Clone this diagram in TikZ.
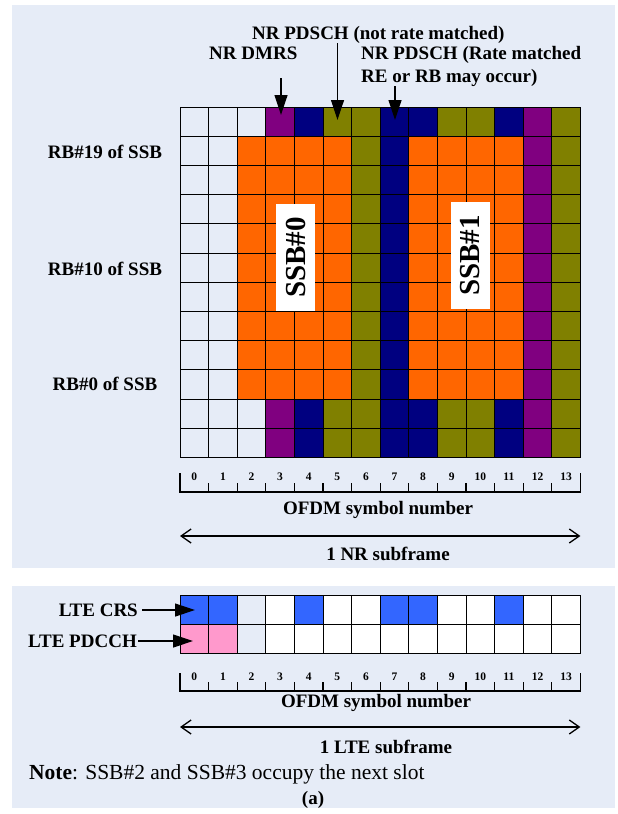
\documentclass[tikz,border=0pt]{standalone}
\usepackage{fontspec}
\setmainfont{Liberation Serif}
\usetikzlibrary{arrows.meta}

\definecolor{panel}{HTML}{E6ECF7}
\definecolor{ssborange}{HTML}{FF6600}
\definecolor{dmrspurple}{HTML}{800080}
\definecolor{pdschnavy}{HTML}{000080}
\definecolor{pdscholive}{HTML}{808000}
\definecolor{crsblue}{HTML}{3366FF}
\definecolor{pdcchpink}{HTML}{FF99CC}

\begin{document}
\begin{tikzpicture}[x=1pt, y=-1pt,
  lbl/.style={font=\fontsize{19}{22}\selectfont\bfseries, inner sep=0pt},
  num/.style={font=\fontsize{11.5}{14}\selectfont\bfseries, inner sep=0pt},
  ssb/.style={fill=white, rotate=90, inner sep=0pt, minimum width=107pt,
    minimum height=39pt, font=\fontsize{29}{32}\selectfont\bfseries},
  pointer/.style={-{Triangle[length=20pt,width=13pt]}, line width=1.2pt},
  span/.style={{Straight Barb[length=10pt,width=14pt]}-{Straight Barb[length=10pt,width=14pt]},
    line width=1.3pt},
  cell/.style={draw=black, line width=1pt}]
\useasboundingbox (0,0) rectangle (618,814);
\fill[panel] (12,5) rectangle (615,568);
\fill[panel] (12,586) rectangle (615,808);

              % NR slot
\foreach \c [count=\i from 0] in {panel,panel,panel,dmrspurple,pdschnavy,pdscholive,
    pdscholive,pdschnavy,pdschnavy,pdscholive,pdscholive,pdschnavy,dmrspurple,pdscholive}
  \foreach \r in {0,10,11}
    \filldraw[cell, fill=\c] ({180+\i*28.6},{107+\r*29.2}) rectangle ++(28.6,29.2);
\foreach \c [count=\i from 0] in {panel,panel,ssborange,ssborange,ssborange,ssborange,
    pdscholive,pdschnavy,ssborange,ssborange,ssborange,ssborange,dmrspurple,pdscholive}
  \foreach \r in {1,...,9}
    \filldraw[cell, fill=\c] ({180+\i*28.6},{107+\r*29.2}) rectangle ++(28.6,29.2);

\node[ssb] at (295.5,257.5) (ssb0) {SSB\#0};
\node[ssb] at (470.5,255.5) (ssb1) {SSB\#1};

\node[lbl] at (105,152) (rb19) {RB\#19 of SSB};
\node[lbl] at (105,269) (rb10) {RB\#10 of SSB};
\node[lbl] at (105,384) (rb0)  {RB\#0 of SSB};

\node[lbl, anchor=base west] at (252,39.3) (pdsch)  {NR PDSCH (not rate matched)};
\node[lbl, anchor=base west] at (209,59.3) (dmrs)   {NR DMRS};
\node[lbl, anchor=base west] at (361,59.3) (ratem1) {NR PDSCH (Rate matched};
\node[lbl, anchor=base west] at (361,82.7) (ratem2) {RE or RB may occur)};

\coordinate (dmrsTop)  at (281,78);
\coordinate (dmrsTip)  at (281,115);
\coordinate (pdschTop) at (337.5,43);
\coordinate (pdschTip) at (337.5,120);
\coordinate (rateTop)  at (395,86);
\coordinate (rateTip)  at (395,120);
\draw[pointer] (dmrsTop)  -- (dmrsTip);
\draw[pointer] (pdschTop) -- (pdschTip);
\draw[pointer] (rateTop)  -- (rateTip);

              % symbol axis
\draw[line width=1.2pt] (180,473) -- (180,492) -- (580.4,492) -- (580.4,473);
\foreach \i in {1,...,13}
  \draw[line width=1.2pt] ({180+\i*28.6},483) -- ({180+\i*28.6},492);
\foreach \i in {0,...,13}
  \node[num] at ({180+(\i+0.5)*28.6},477) (nr\i) {\i};

\node[lbl] at (378,510) (nrofdm) {OFDM symbol number};
\coordinate (nrL) at (180,536);
\coordinate (nrR) at (580.4,536);
\draw[span] (nrL) -- (nrR);
\node[lbl] at (388,554) (nrsub) {1 NR subframe};

              % LTE subframe
\foreach \c [count=\i from 0] in {crsblue,crsblue,panel,white,crsblue,white,white,
    crsblue,crsblue,white,white,crsblue,white,white}
  \filldraw[cell, fill=\c] ({180+\i*28.6},595) rectangle ++(28.6,29);
\foreach \c [count=\i from 0] in {pdcchpink,pdcchpink,panel,white,white,white,white,
    white,white,white,white,white,white,white}
  \filldraw[cell, fill=\c] ({180+\i*28.6},624) rectangle ++(28.6,29);

\node[lbl, anchor=east] at (138,610) (crs)   {LTE CRS};
\node[lbl, anchor=east] at (137,641) (pdcch) {LTE PDCCH};
\coordinate (crsTip)   at (195,610);
\coordinate (pdcchTip) at (193,641);
\draw[pointer, shorten <=4pt] (crs) -- (crsTip);
\draw[pointer, shorten <=1pt] (pdcch) -- (pdcchTip);

\draw[line width=1.2pt] (180,673) -- (180,691) -- (580.4,691) -- (580.4,673);
\foreach \i in {1,...,13}
  \draw[line width=1.2pt] ({180+\i*28.6},682) -- ({180+\i*28.6},691);
\foreach \i in {0,...,13}
  \node[num] at ({180+(\i+0.5)*28.6},677) (lte\i) {\i};

\node[lbl] at (376,703) (lteofdm) {OFDM symbol number};
\coordinate (lteL) at (180,727);
\coordinate (lteR) at (580.4,727);
\draw[span] (lteL) -- (lteR);
\node[lbl] at (386,747) (ltesub) {1 LTE subframe};

\node[anchor=base west, inner sep=0pt, font=\fontsize{21.5}{24}\selectfont]
  at (29,779) (note) {\textbf{Note}: SSB\#2 and SSB\#3 occupy the next slot};
\node[font=\fontsize{19}{21}\selectfont\bfseries, inner sep=0pt] at (313,800) (cap) {(a)};
\end{tikzpicture}
\end{document}
